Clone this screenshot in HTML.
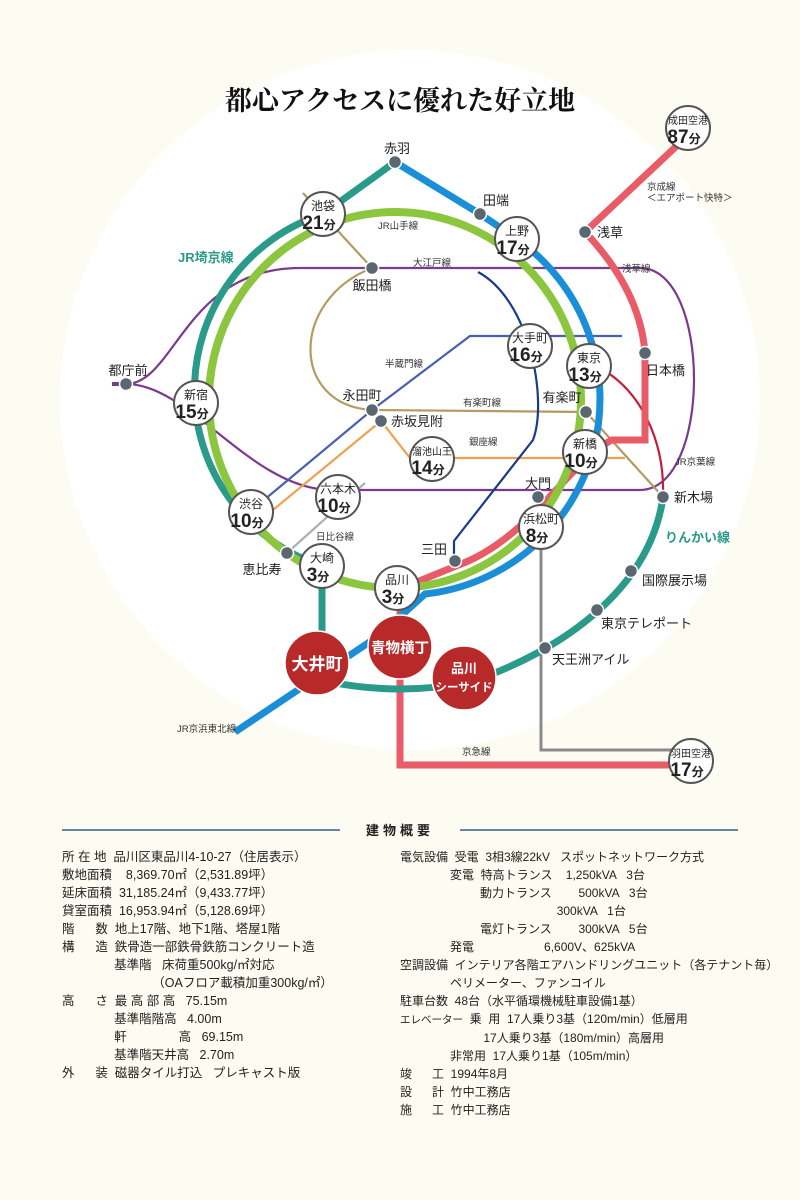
<!DOCTYPE html>
<html><head><meta charset="utf-8"><style>
html,body{margin:0;padding:0;background:#fdfcf2;}
body{width:800px;height:1200px;position:relative;overflow:hidden;font-family:"Liberation Sans","Noto Sans CJK JP",sans-serif;}
svg{position:absolute;left:0;top:0;}
.t{position:absolute;font-size:12.5px;color:#222;white-space:pre;line-height:18px;}
</style></head><body>
<svg width="800" height="1200" viewBox="0 0 800 1200" font-family="Liberation Sans, Noto Sans CJK JP, sans-serif">
<circle cx="410" cy="400" r="350" fill="#ffffff"/>
<text x="400" y="110" text-anchor="middle" font-family="Liberation Serif, Noto Serif CJK SC, serif" font-weight="bold" font-size="27" fill="#111">都心アクセスに優れた好立地</text>

<g fill="none" stroke-width="2.2">
<path d="M112,384 L126,384" stroke="#7a3b8f" stroke-width="4"/>
<path d="M126,384 C175,384 185,268 300,268 L640,268 C712,268 712,490 640,490 L330,490 C250,488 190,384 126,384" stroke="#7a3b8f"/>
<path d="M303,193 L372,268 C290,300 290,405 372,410 L586,412 L663,497" stroke="#b39b62"/>
<path d="M258,505 L372,410 L470,336 L622,336" stroke="#4a5fb0"/>
<path d="M262,519 L381,421 L410,458 L625,458" stroke="#f0a050"/>
<path d="M287,553 L365,483" stroke="#a8b0b8"/>
<path d="M600,368 C640,390 665,440 663,497" stroke="#c0203a"/>
<path d="M478,272 C530,300 548,400 533,440 L454,541 L454,561" stroke="#1a3a8a"/>
<path d="M541,527 L541,750 L672,750" stroke="#8a8a8a" stroke-width="3"/>
</g>
<g fill="none" stroke-width="7">
<path d="M683,140 L585,232 Q640,290 645,353 L645,440 L612,440 C570,460 530,540 456,566 L402,588" stroke="#e95b66"/>
<path d="M400,610 L400,765 L672,765" stroke="#e95b66"/>
<path d="M395,162 L323,214 A185 185 0 0 0 322,566 L322,635" stroke="#2a9a8a"/>
<path d="M330,682 Q400,696 470,682 C560,652 650,590 663,497" stroke="#2a9a8a"/>
<path d="M395,162 L480,214 L517,239 A196 196 0 0 1 425,594 L380,635 L235,732" stroke="#1a8fd8"/>
<ellipse cx="395" cy="400" rx="186" ry="188" stroke="#8cc63f" stroke-width="8"/>
</g>

<g fill="#5a6670" stroke="#fff" stroke-width="1.5">
<circle cx="395" cy="162" r="6.5"/><circle cx="480" cy="214" r="6.5"/><circle cx="372" cy="268" r="6.5"/>
<circle cx="585" cy="232" r="6.5"/><circle cx="645" cy="353" r="6.5"/><circle cx="126" cy="384" r="6.5"/>
<circle cx="372" cy="410" r="6.5"/><circle cx="381" cy="421" r="6.5"/><circle cx="586" cy="412" r="6.5"/>
<circle cx="538" cy="497" r="6.5"/><circle cx="663" cy="497" r="6.5"/><circle cx="287" cy="553" r="6.5"/>
<circle cx="455" cy="561" r="6.5"/><circle cx="631" cy="571" r="6.5"/><circle cx="597" cy="610" r="6.5"/>
<circle cx="545" cy="648" r="6.5"/>
</g>

<g fill="#fff" stroke="#555" stroke-width="2">
<circle cx="323" cy="214" r="22"/><circle cx="517" cy="239" r="22"/><circle cx="688" cy="128" r="22"/>
<circle cx="530" cy="346" r="22"/><circle cx="589" cy="366" r="22"/><circle cx="196" cy="403" r="22"/>
<circle cx="432" cy="459" r="22"/><circle cx="585" cy="452" r="22"/><circle cx="541" cy="527" r="22"/>
<circle cx="338" cy="497" r="22"/><circle cx="251" cy="512" r="22"/><circle cx="322" cy="566" r="22"/>
<circle cx="397" cy="588" r="22"/><circle cx="691" cy="761" r="22"/>
</g>
<g fill="#222" text-anchor="middle">
<g font-size="12">
<text x="323" y="210">池袋</text><text x="517" y="235">上野</text><text x="688" y="124" font-size="10">成田空港</text>
<text x="530" y="342">大手町</text><text x="589" y="362">東京</text><text x="196" y="399">新宿</text>
<text x="432" y="455" font-size="10">溜池山王</text><text x="585" y="448">新橋</text><text x="541" y="523">浜松町</text>
<text x="338" y="493">六本木</text><text x="251" y="508">渋谷</text><text x="322" y="562">大崎</text>
<text x="397" y="584">品川</text><text x="691" y="757" font-size="10">羽田空港</text>
</g>
<g font-size="19" font-weight="bold">
<text x="319" y="229">21<tspan font-size="12">分</tspan></text><text x="513" y="254">17<tspan font-size="12">分</tspan></text>
<text x="684" y="143">87<tspan font-size="12">分</tspan></text><text x="526" y="361">16<tspan font-size="12">分</tspan></text>
<text x="585" y="381">13<tspan font-size="12">分</tspan></text><text x="192" y="418">15<tspan font-size="12">分</tspan></text>
<text x="428" y="474">14<tspan font-size="12">分</tspan></text><text x="581" y="467">10<tspan font-size="12">分</tspan></text>
<text x="537" y="542">8<tspan font-size="12">分</tspan></text><text x="334" y="512">10<tspan font-size="12">分</tspan></text>
<text x="247" y="527">10<tspan font-size="12">分</tspan></text><text x="318" y="581">3<tspan font-size="12">分</tspan></text>
<text x="393" y="603">3<tspan font-size="12">分</tspan></text><text x="687" y="776">17<tspan font-size="12">分</tspan></text>
</g>
</g>

<g fill="#b82a2a" stroke="#fff" stroke-width="1.5">
<circle cx="317" cy="663" r="32"/><circle cx="400" cy="647" r="32"/><circle cx="464" cy="678" r="32"/>
</g>
<g fill="#fff" font-weight="bold" text-anchor="middle">
<text x="317" y="670" font-size="17">大井町</text>
<text x="400" y="653" font-size="14.5">青物横丁</text>
<text x="464" y="673" font-size="13">品川</text><text x="464" y="691" font-size="11.5">シーサイド</text>
</g>

<g fill="#222" font-size="13">
<text x="397" y="153" text-anchor="middle">赤羽</text>
<text x="483" y="205">田端</text>
<text x="372" y="290" text-anchor="middle">飯田橋</text>
<text x="597" y="237">浅草</text>
<text x="646" y="375">日本橋</text>
<text x="128" y="375" text-anchor="middle">都庁前</text>
<text x="362" y="400" text-anchor="middle">永田町</text>
<text x="391" y="426">赤坂見附</text>
<text x="562" y="402" text-anchor="middle">有楽町</text>
<text x="538" y="488" text-anchor="middle">大門</text>
<text x="674" y="502">新木場</text>
<text x="262" y="574" text-anchor="middle">恵比寿</text>
<text x="434" y="554" text-anchor="middle">三田</text>
<text x="642" y="585">国際展示場</text>
<text x="601" y="628">東京テレポート</text>
<text x="552" y="664">天王洲アイル</text>
</g>
<g fill="#333" font-size="9.5">
<text x="378" y="229">JR山手線</text>
<text x="413" y="266">大江戸線</text>
<text x="622" y="272">浅草線</text>
<text x="647" y="190">京成線</text>
<text x="647" y="201">＜エアポート快特＞</text>
<text x="385" y="367">半蔵門線</text>
<text x="463" y="406">有楽町線</text>
<text x="469" y="445">銀座線</text>
<text x="675" y="465">JR京葉線</text>
<text x="316" y="540">日比谷線</text>
<text x="177" y="732">JR京浜東北線</text>
<text x="462" y="755">京急線</text>
</g>
<text x="178" y="262" fill="#2a9a8a" font-size="13" font-weight="bold">JR埼京線</text>
<text x="665" y="542" fill="#2a9a8a" font-size="13" font-weight="bold">りんかい線</text>

<line x1="62" y1="830" x2="340" y2="830" stroke="#3a5a8a" stroke-width="1.5"/>
<line x1="460" y1="830" x2="738" y2="830" stroke="#3a5a8a" stroke-width="1.5"/>
<text x="400" y="835" text-anchor="middle" font-size="13" font-weight="bold" fill="#222" letter-spacing="4">建物概要</text>
</svg>

<div class="t" style="left:62px;top:848px;">所 在 地  品川区東品川4-10-27（住居表示）
敷地面積    8,369.70㎡（2,531.89坪）
延床面積  31,185.24㎡（9,433.77坪）
貸室面積  16,953.94㎡（5,128.69坪）
階      数  地上17階、地下1階、塔屋1階
構      造  鉄骨造一部鉄骨鉄筋コンクリート造
               基準階   床荷重500kg/㎡対応
                          （OAフロア載積加重300kg/㎡）
高      さ  最 高 部 高   75.15m
               基準階階高   4.00m
               軒               高   69.15m
               基準階天井高   2.70m
外      装  磁器タイル打込   プレキャスト版</div>
<div class="t" style="left:400px;top:848px;font-size:12px;">電気設備  受電  3相3線22kV   スポットネットワーク方式
               変電  特高トランス    1,250kVA   3台
                        動力トランス        500kVA   3台
                                               300kVA   1台
                        電灯トランス        300kVA   5台
               発電                     6,600V、625kVA
空調設備  インテリア各階エアハンドリングユニット（各テナント毎）
               ペリメーター、ファンコイル
駐車台数  48台（水平循環機械駐車設備1基）
<span style="font-size:10.5px">エレベーター</span>  乗  用  17人乗り3基（120m/min）低層用
                         17人乗り3基（180m/min）高層用
               非常用  17人乗り1基（105m/min）
竣      工  1994年8月
設      計  竹中工務店
施      工  竹中工務店</div>
</body></html>
